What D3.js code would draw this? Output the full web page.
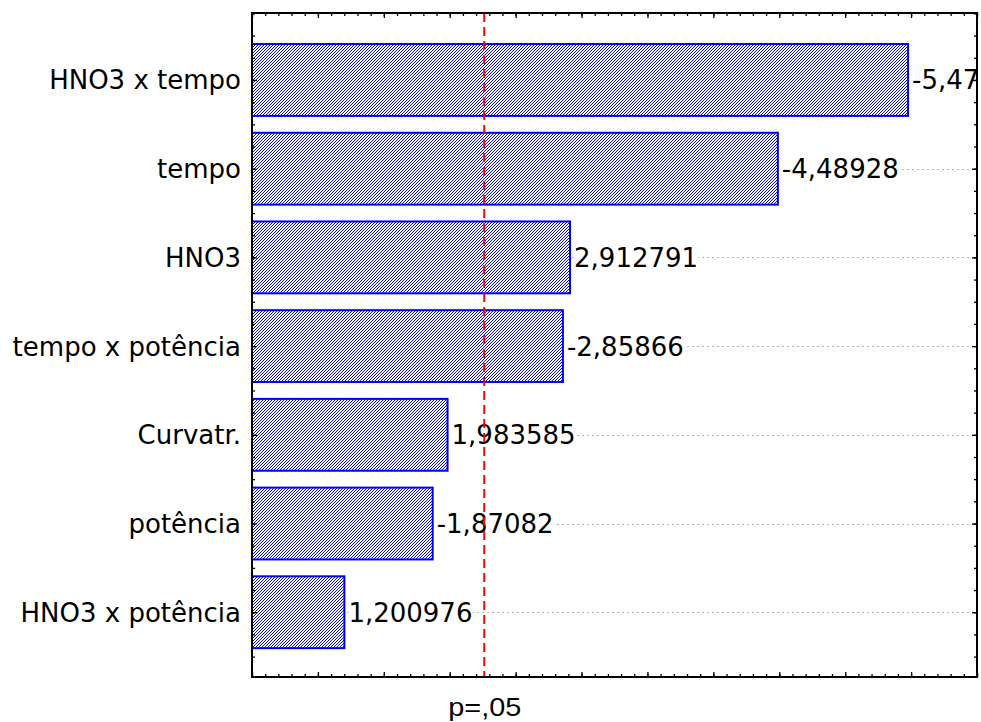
<!DOCTYPE html>
<html><head><meta charset="utf-8">
<script src="https://cdn.jsdelivr.net/npm/d3@7"></script>
<style>body{margin:0;background:#fff}svg{display:block}</style>
</head><body>
<script>
const categories = ["HNO3 x tempo","tempo","HNO3","tempo x potência","Curvatr.","potência","HNO3 x potência"];
const effects = [-5.47723, -4.48928, 2.912791, -2.85866, 1.983585, -1.87082, 1.200976];
const pCrit = 2.262;
const pLabel = "p=,05";
const xMinor = d3.range(5, 61).map(k => k / 10);
const xMajor = d3.range(1, 13).map(k => k / 2);
const yMinor = d3.range(-3, 27).map(k => k / 4);
const yMajor = d3.range(0, 7);

const W = 981, H = 722;
const L = 252, R = 977, T = 13, B = 677;
const FS = 26;
const svg = d3.select("body").append("svg").attr("width", W).attr("height", H);
const x = d3.scaleLinear().domain([0.5, 6.0]).range([L, R]);
const y = d3.scaleLinear().domain([-0.755, 6.73]).range([T, B]);

const defs = svg.append("defs");
const pat = defs.append("pattern").attr("id", "hatch").attr("patternUnits", "userSpaceOnUse")
  .attr("width", 3).attr("height", 3);
pat.append("rect").attr("width", 3).attr("height", 3).attr("fill", "#fff");
[[2,0],[1,1],[0,2]].forEach(([a,b]) => pat.append("rect").attr("x", a).attr("y", b).attr("width", 1).attr("height", 1).attr("fill", "#0000ff"));

// grid
svg.append("g").selectAll("line").data(categories).join("line")
  .attr("x1", L).attr("x2", R)
  .attr("y1", (d,i) => Math.round(y(i)) + 0.5).attr("y2", (d,i) => Math.round(y(i)) + 0.5)
  .attr("stroke", "#b4b4b4").attr("stroke-width", 1).attr("stroke-dasharray", "2,3");

// bars
const bh = 0.405;
svg.append("g").selectAll("rect").data(effects).join("rect")
  .attr("x", L)
  .attr("y", (d,i) => y(i - bh))
  .attr("width", d => x(Math.abs(d)) - L)
  .attr("height", (d,i) => y(i + bh) - y(i - bh))
  .attr("fill", "url(#hatch)").attr("stroke", "#0000ff").attr("stroke-width", 2);

// value labels
const lg = svg.append("g");
effects.forEach((v, i) => {
  const t = lg.append("text")
    .attr("x", x(Math.abs(v)) + 4).attr("y", y(i) + 9.5)
    .attr("font-family", "DejaVu Sans").attr("font-size", FS).attr("fill", "#000")
    .text(String(v).replace(".", ","));
  const bb = t.node().getBBox();
  lg.insert("rect", "text").attr("x", bb.x).attr("y", y(i) - 10).attr("width", bb.width).attr("height", 20).attr("fill", "#fff");
});

// category labels
svg.append("g").selectAll("text").data(categories).join("text")
  .attr("x", 241).attr("y", (d,i) => y(i) + 9.5)
  .attr("text-anchor", "end").attr("font-family", "DejaVu Sans").attr("font-size", FS).attr("fill", "#000")
  .text(d => d);

// critical line
svg.append("line").attr("x1", x(pCrit)).attr("x2", x(pCrit)).attr("y1", T).attr("y2", B)
  .attr("stroke", "#ff0000").attr("stroke-width", 2).attr("stroke-dasharray", "9,5");

// ticks
function ticks(axisFn, scale, vals, size, transform) {
  const g = svg.append("g").attr("transform", transform)
    .call(axisFn(scale).tickValues(vals).tickSize(size).tickFormat(""));
  g.select(".domain").remove();
  g.selectAll("line").attr("stroke", "#000").attr("stroke-width", 1.3);
}
ticks(d3.axisBottom, x, xMinor, -3, `translate(0,${B})`);
ticks(d3.axisBottom, x, xMajor, -5, `translate(0,${B})`);
ticks(d3.axisTop, x, xMinor, -3, `translate(0,${T})`);
ticks(d3.axisTop, x, xMajor, -5, `translate(0,${T})`);
ticks(d3.axisLeft, y, yMinor, -3, `translate(${L},0)`);
ticks(d3.axisLeft, y, yMajor, -5, `translate(${L},0)`);
ticks(d3.axisRight, y, yMinor, -3, `translate(${R},0)`);
ticks(d3.axisRight, y, yMajor, -5, `translate(${R},0)`);

// frame
svg.append("rect").attr("x", L).attr("y", T).attr("width", R - L).attr("height", B - T)
  .attr("fill", "none").attr("stroke", "#000").attr("stroke-width", 2);

// p label
const pa = svg.append("g").attr("transform", `translate(0,${B})`)
  .call(d3.axisBottom(x).tickValues([pCrit]).tickSize(0).tickFormat(() => pLabel));
pa.select(".domain").remove();
pa.selectAll("text").attr("y", 39).attr("dy", 0).attr("font-family", "Liberation Sans").attr("font-size", 25)
  .attr("fill", "#000").attr("textLength", 73).attr("lengthAdjust", "spacingAndGlyphs");
</script>
</body></html>
